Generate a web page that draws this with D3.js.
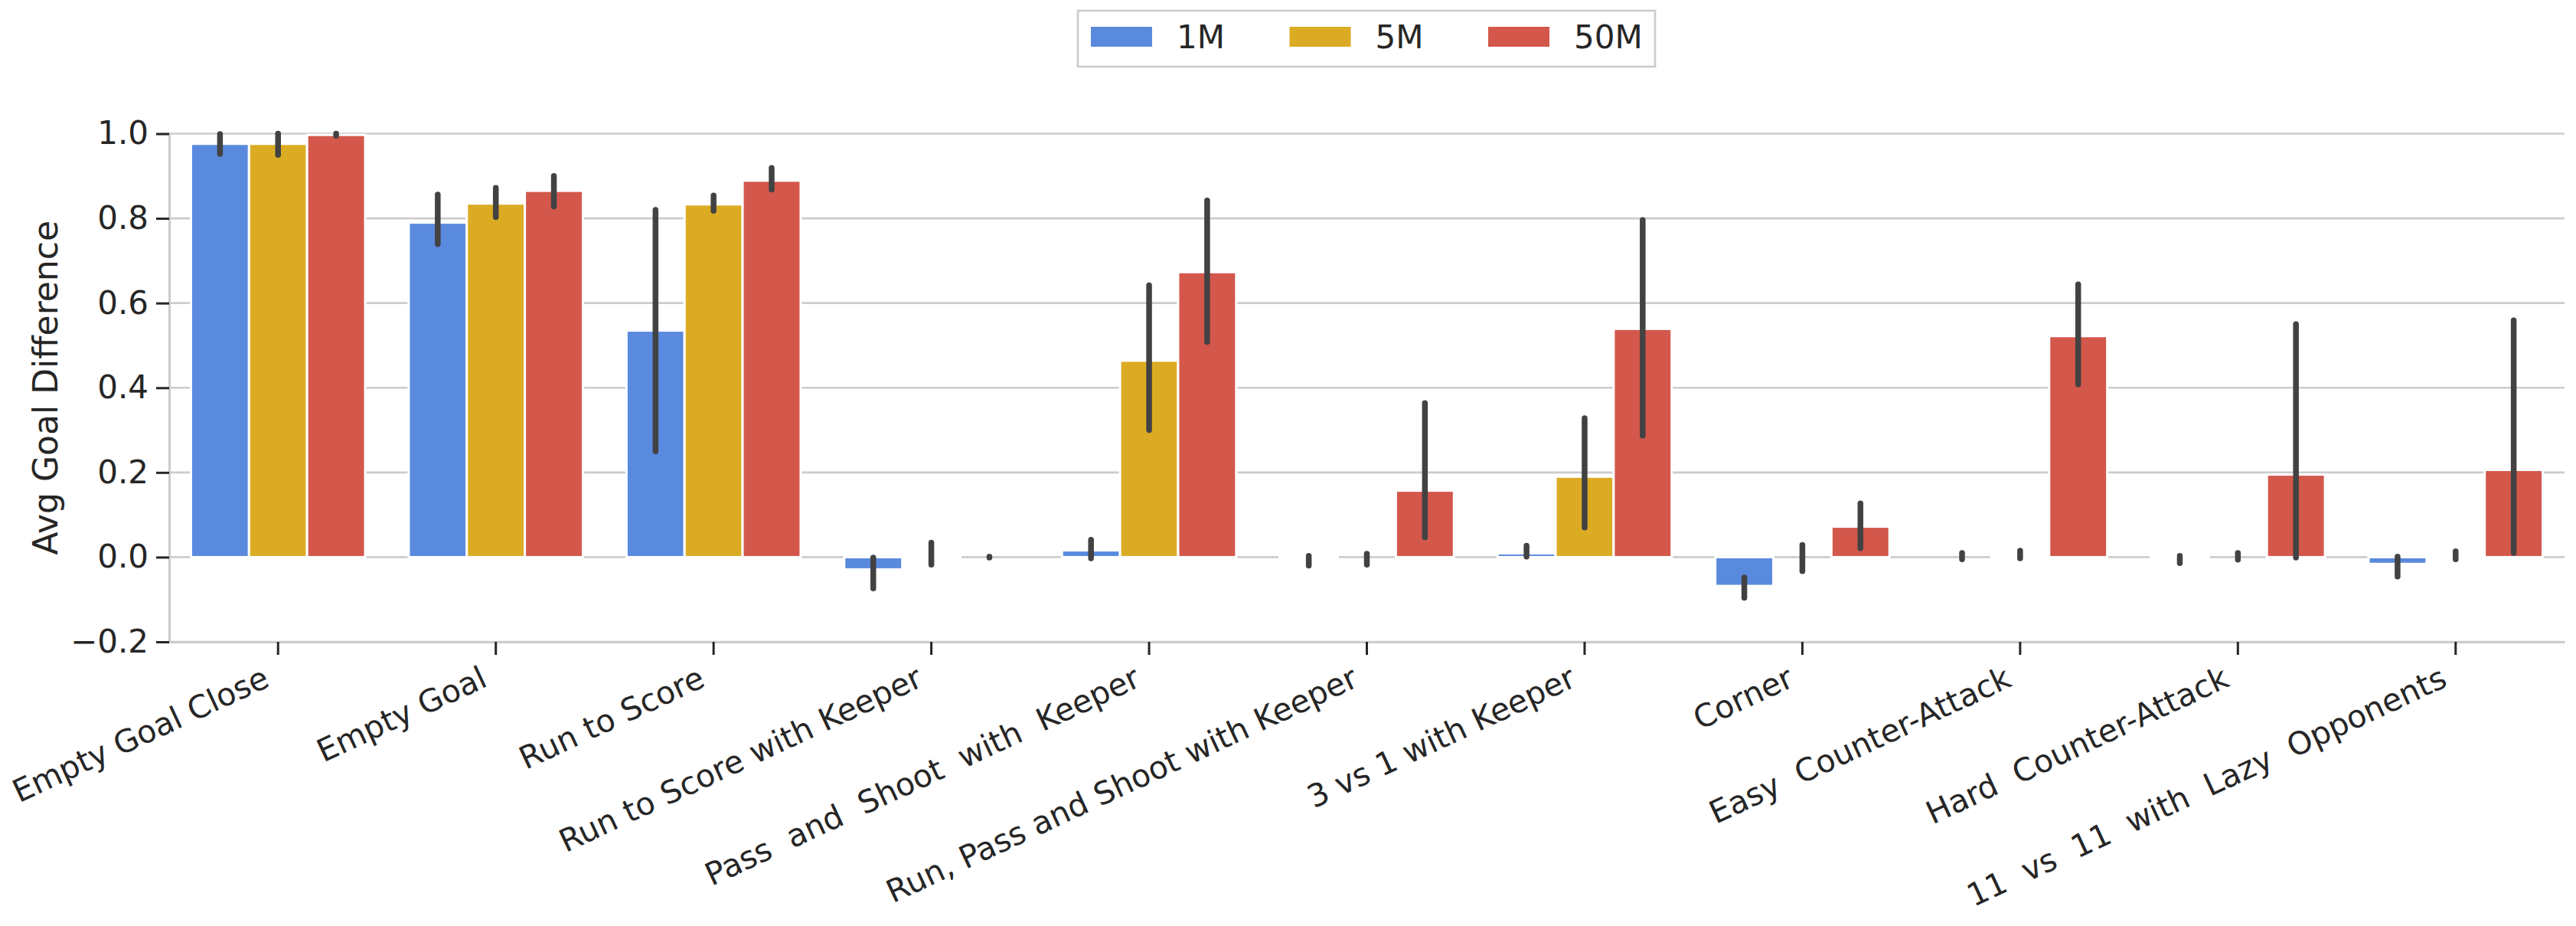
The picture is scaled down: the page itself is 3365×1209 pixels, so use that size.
<!DOCTYPE html>
<html lang="en">
<head>
  <meta charset="UTF-8">
  <title>Avg Goal Difference</title>
  <style>
    body { margin: 0; background: #fff; }
    svg { display: block; font-family: "DejaVu Sans", sans-serif; }
    .xlab { white-space: pre; }
  </style>
</head>
<body>
  <script src="https://d3js.org/d3.v7.min.js"></script>
  <script>
    const categories = [
      "Empty Goal Close", "Empty Goal", "Run to Score", "Run to Score with Keeper",
      "Pass  and  Shoot  with  Keeper", "Run, Pass and Shoot with Keeper",
      "3 vs 1 with Keeper", "Corner", "Easy  Counter-Attack", "Hard  Counter-Attack",
      "11  vs  11  with  Lazy  Opponents"
    ];
    const seriesNames = ["1M", "5M", "50M"];
    const colors = ["#5a8ade", "#dbac23", "#d3574b"];

    // bar heights and confidence interval ends, one value per category
    const mean1M = [0.976, 0.790, 0.535, -0.029, 0.016, -0.003, 0.009, -0.068, 0.000, -0.002, -0.016];
    const low1M  = [0.952, 0.739, 0.250, -0.074, -0.003, -0.020, 0.001, -0.096, -0.005, -0.014, -0.046];
    const high1M = [0.999, 0.856, 0.820, -0.001, 0.041, 0.003, 0.027, -0.048, 0.010, 0.003, 0.001];

    const mean5M = [0.976, 0.835, 0.833, 0.003, 0.464, 0.000, 0.190, 0.000, 0.002, 0.000, 0.001];
    const low5M  = [0.950, 0.803, 0.818, -0.018, 0.300, -0.018, 0.070, -0.033, -0.003, -0.006, -0.005];
    const high5M = [1.000, 0.872, 0.854, 0.034, 0.642, 0.008, 0.328, 0.029, 0.015, 0.010, 0.014];

    const mean50M = [0.997, 0.865, 0.889, 0.000, 0.673, 0.157, 0.539, 0.072, 0.522, 0.195, 0.206];
    const low50M  = [0.995, 0.828, 0.868, -0.001, 0.508, 0.047, 0.287, 0.021, 0.408, -0.001, 0.010];
    const high50M = [1.000, 0.900, 0.919, 0.001, 0.842, 0.364, 0.796, 0.127, 0.644, 0.550, 0.559];

    const yTicks = [-0.2, 0.0, 0.2, 0.4, 0.6, 0.8, 1.0];

    const means = [mean1M, mean5M, mean50M];
    const lows = [low1M, low5M, low50M];
    const highs = [high1M, high5M, high50M];

    const rows = [];
    seriesNames.forEach((s, si) => {
      categories.forEach((c, ci) => {
        rows.push({ cat: c, series: s, si, mean: means[si][ci], low: lows[si][ci], high: highs[si][ci] });
      });
    });

    const width = 3365, height = 1209;
    const margin = { left: 221, right: 15, top: 174.5, bottom: 371 };
    const dark = "#262626", grid = "#cccccc";

    const svg = d3.select("body").append("svg")
      .attr("width", width)
      .attr("height", height);

    const x = d3.scaleBand()
      .domain(categories)
      .range([margin.left, width - margin.right])
      .paddingInner(0).paddingOuter(0);

    const xInner = d3.scaleBand()
      .domain(seriesNames)
      .range([0, x.bandwidth() * 0.8]);

    const y = d3.scaleLinear()
      .domain([-0.2, 1.0])
      .range([height - margin.bottom, margin.top]);

    const color = d3.scaleOrdinal().domain(seriesNames).range(colors);

    // gridlines
    svg.append("g")
      .selectAll("line")
      .data(yTicks)
      .join("line")
      .attr("x1", margin.left)
      .attr("x2", width - margin.right)
      .attr("y1", d => y(d))
      .attr("y2", d => y(d))
      .attr("stroke", grid)
      .attr("stroke-width", 2.6);

    // bars
    const off = x.bandwidth() * 0.1;
    svg.append("g")
      .selectAll("rect")
      .data(rows)
      .join("rect")
      .attr("x", d => x(d.cat) + off + xInner(d.series))
      .attr("width", xInner.bandwidth())
      .attr("y", d => y(Math.max(0, d.mean)))
      .attr("height", d => Math.abs(y(d.mean) - y(0)))
      .attr("fill", d => color(d.series))
      .attr("stroke", "#ffffff")
      .attr("stroke-width", 3);

    // error bars
    svg.append("g")
      .selectAll("line")
      .data(rows)
      .join("line")
      .attr("x1", d => x(d.cat) + off + xInner(d.series) + xInner.bandwidth() / 2)
      .attr("x2", d => x(d.cat) + off + xInner(d.series) + xInner.bandwidth() / 2)
      .attr("y1", d => y(d.low))
      .attr("y2", d => y(d.high))
      .attr("stroke", "#424242")
      .attr("stroke-width", 7.5)
      .attr("stroke-linecap", "round");

    // y axis
    const yAxis = svg.append("g")
      .attr("transform", `translate(${margin.left},0)`)
      .call(d3.axisLeft(y).tickValues(yTicks).tickFormat(d3.format(".1f")).tickSize(17).tickPadding(10));
    yAxis.select(".domain").attr("stroke", grid).attr("stroke-width", 3.2);
    yAxis.selectAll(".tick line").attr("stroke", dark).attr("stroke-width", 3);
    yAxis.selectAll(".tick text").attr("fill", dark).attr("font-size", 42).attr("font-family", "DejaVu Sans");

    // x axis
    const xAxis = svg.append("g")
      .attr("transform", `translate(0,${y(-0.2)})`)
      .call(d3.axisBottom(x).tickSize(17).tickSizeOuter(0));
    xAxis.select(".domain").attr("stroke", grid).attr("stroke-width", 3.2);
    xAxis.selectAll(".tick line").attr("stroke", dark).attr("stroke-width", 3);
    xAxis.selectAll(".tick text")
      .attr("class", "xlab")
      .attr("fill", dark)
      .attr("font-size", 41)
      .attr("font-family", "DejaVu Sans")
      .attr("text-anchor", "end")
      .attr("y", 0).attr("dy", 0)
      .attr("transform", "translate(-9,57) rotate(-25)");

    // y label
    svg.append("text")
      .attr("transform", `translate(75,${(y(1) + y(-0.2)) / 2}) rotate(-90)`)
      .attr("text-anchor", "middle")
      .attr("fill", dark)
      .attr("font-size", 44)
      .text("Avg Goal Difference");

    // legend
    const legend = svg.append("g");
    legend.append("rect")
      .attr("x", 1408).attr("y", 14)
      .attr("width", 754).attr("height", 73)
      .attr("fill", "#fff")
      .attr("stroke", grid)
      .attr("stroke-width", 2.7);
    const item = legend.selectAll("g.item")
      .data(seriesNames)
      .join("g")
      .attr("class", "item")
      .attr("transform", (d, i) => `translate(${1425 + i * 259.5},0)`);
    item.append("rect")
      .attr("x", 0).attr("y", 35)
      .attr("width", 80).attr("height", 26)
      .attr("fill", d => color(d));
    item.append("text")
      .attr("x", 112).attr("y", 63)
      .attr("fill", dark)
      .attr("font-size", 42)
      .text(d => d);
  </script>
</body>
</html>
